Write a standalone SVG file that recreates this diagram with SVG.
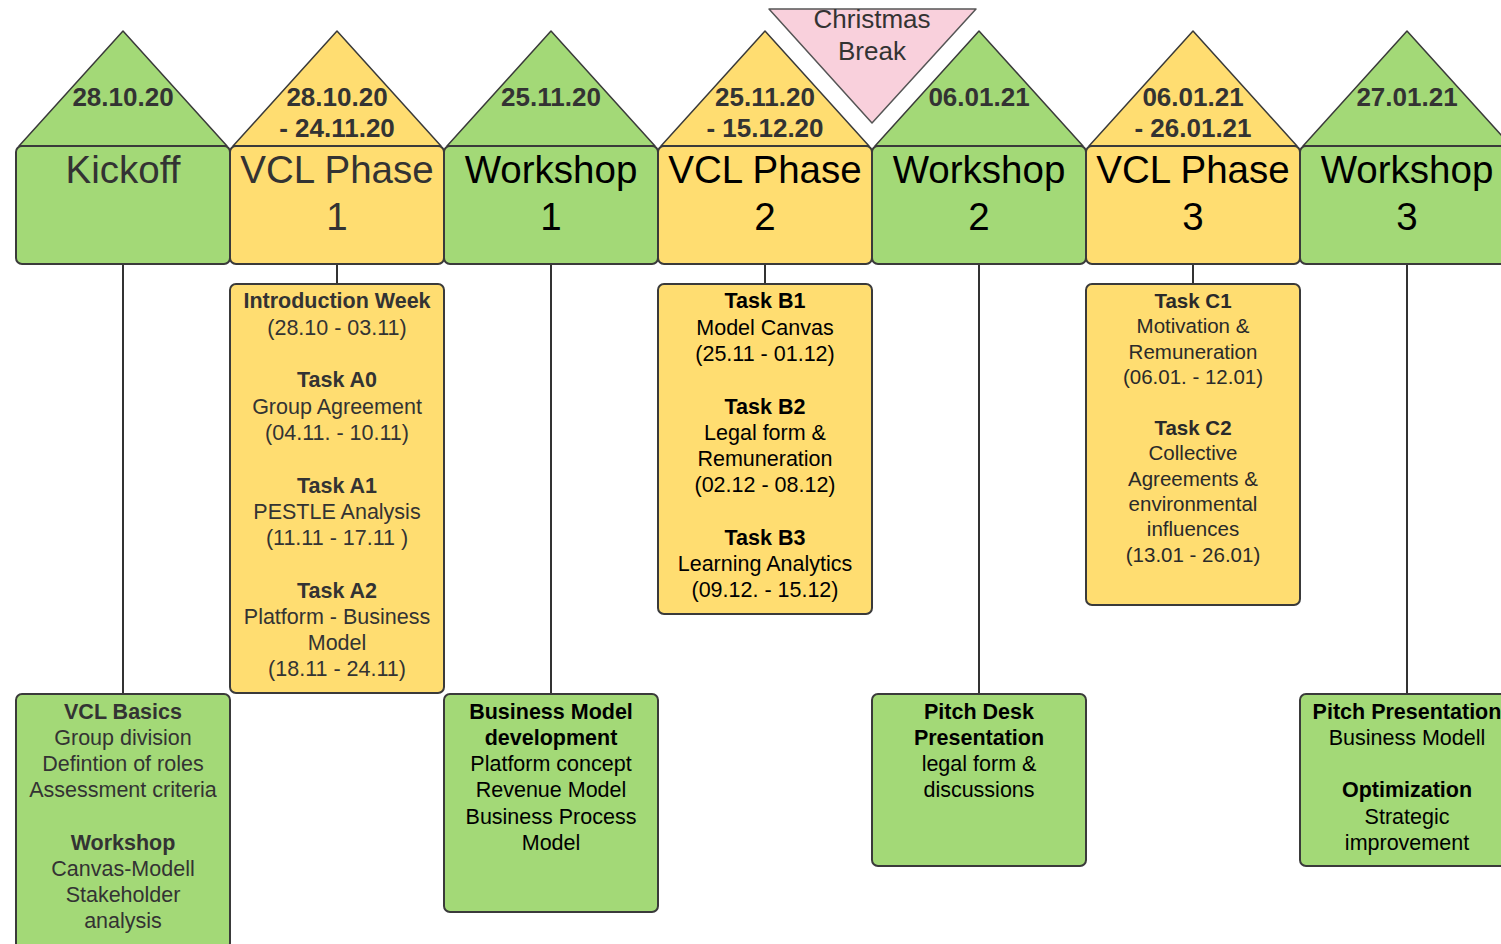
<svg xmlns="http://www.w3.org/2000/svg" width="1501" height="944" viewBox="0 0 1501 944">
<style>
.g{fill:#A3D977;stroke:#3a3a3a;stroke-width:2}
.y{fill:#FFDD71;stroke:#3a3a3a;stroke-width:2}
.p{fill:#F9D0DC;stroke:#555;stroke-width:1.5}
.tri{stroke-linejoin:round;stroke-width:1.5}
text{font-family:"Liberation Sans",Arial,sans-serif;text-anchor:middle}
.date{font-size:26px;font-weight:bold;fill:#333}
.head{font-size:38.5px;fill:#000}
.t{font-size:21.5px;fill:#000}
.t3{font-size:20.5px;fill:#2a2a2a}
.gray{fill:#333}
.b{font-weight:bold}
.conn line{stroke:#333;stroke-width:2}
</style>
<rect width="1501" height="944" fill="#fff"/>

<g id="christmas-break">
<polygon class="p tri" points="769,9 976,9 872,123"/>
<text x="872" y="28" style="font-size:26px;fill:#333">Christmas</text>
<text x="872" y="60" style="font-size:26px;fill:#333">Break</text>
</g>

<g class="conn" id="connectors">
<line x1="123" y1="264" x2="123" y2="694"/>
<line x1="337" y1="264" x2="337" y2="284"/>
<line x1="551" y1="264" x2="551" y2="694"/>
<line x1="765" y1="264" x2="765" y2="284"/>
<line x1="979" y1="264" x2="979" y2="694"/>
<line x1="1193" y1="264" x2="1193" y2="284"/>
<line x1="1407" y1="264" x2="1407" y2="694"/>
</g>

<g id="kickoff">
<polygon class="g tri" points="123,31 19,146 227,146"/>
<rect class="g" x="16" y="146" width="214" height="118" rx="6"/>
<text class="date" x="123" y="106">28.10.20</text>
<text class="head gray" x="123" y="183">Kickoff</text>
</g>

<g id="vcl-phase-1">
<polygon class="y tri" points="337,31 233,146 441,146"/>
<rect class="y" x="230" y="146" width="214" height="118" rx="6"/>
<text class="date" x="337" y="106">28.10.20</text>
<text class="date" x="337" y="137">- 24.11.20</text>
<text class="head gray" x="337" y="183">VCL Phase</text>
<text class="head gray" x="337" y="230">1</text>
</g>

<g id="workshop-1">
<polygon class="g tri" points="551,31 447,146 655,146"/>
<rect class="g" x="444" y="146" width="214" height="118" rx="6"/>
<text class="date" x="551" y="106">25.11.20</text>
<text class="head" x="551" y="183">Workshop</text>
<text class="head" x="551" y="230">1</text>
</g>

<g id="vcl-phase-2">
<polygon class="y tri" points="765,31 661,146 869,146"/>
<rect class="y" x="658" y="146" width="214" height="118" rx="6"/>
<text class="date" x="765" y="106">25.11.20</text>
<text class="date" x="765" y="137">- 15.12.20</text>
<text class="head" x="765" y="183">VCL Phase</text>
<text class="head" x="765" y="230">2</text>
</g>

<g id="workshop-2">
<polygon class="g tri" points="979,31 875,146 1083,146"/>
<rect class="g" x="872" y="146" width="214" height="118" rx="6"/>
<text class="date" x="979" y="106">06.01.21</text>
<text class="head" x="979" y="183">Workshop</text>
<text class="head" x="979" y="230">2</text>
</g>

<g id="vcl-phase-3">
<polygon class="y tri" points="1193,31 1089,146 1297,146"/>
<rect class="y" x="1086" y="146" width="214" height="118" rx="6"/>
<text class="date" x="1193" y="106">06.01.21</text>
<text class="date" x="1193" y="137">- 26.01.21</text>
<text class="head" x="1193" y="183">VCL Phase</text>
<text class="head" x="1193" y="230">3</text>
</g>

<g id="workshop-3">
<polygon class="g tri" points="1407,31 1303,146 1511,146"/>
<rect class="g" x="1300" y="146" width="214" height="118" rx="6"/>
<text class="date" x="1407" y="106">27.01.21</text>
<text class="head" x="1407" y="183">Workshop</text>
<text class="head" x="1407" y="230">3</text>
</g>

<g id="kickoff-details">
<rect class="g" x="16" y="694" width="214" height="255" rx="6"/>
<text class="t gray" x="123"><tspan x="123" y="719" class="b">VCL Basics</tspan><tspan x="123" y="745">Group division</tspan><tspan x="123" y="771">Defintion of roles</tspan><tspan x="123" y="797">Assessment criteria</tspan><tspan x="123" y="850" class="b">Workshop</tspan><tspan x="123" y="876">Canvas-Modell</tspan><tspan x="123" y="902">Stakeholder</tspan><tspan x="123" y="928">analysis</tspan></text>
</g>

<g id="vcl-phase-1-tasks">
<rect class="y" x="230" y="284" width="214" height="409" rx="6"/>
<text class="t gray"><tspan x="337" y="308" class="b">Introduction Week</tspan><tspan x="337" y="335">(28.10 - 03.11)</tspan><tspan x="337" y="387" class="b">Task A0</tspan><tspan x="337" y="414">Group Agreement</tspan><tspan x="337" y="440">(04.11. - 10.11)</tspan><tspan x="337" y="493" class="b">Task A1</tspan><tspan x="337" y="519">PESTLE Analysis</tspan><tspan x="337" y="545">(11.11 - 17.11 )</tspan><tspan x="337" y="598" class="b">Task A2</tspan><tspan x="337" y="624">Platform - Business</tspan><tspan x="337" y="650">Model</tspan><tspan x="337" y="676">(18.11 - 24.11)</tspan></text>
</g>

<g id="workshop-1-details">
<rect class="g" x="444" y="694" width="214" height="218" rx="6"/>
<text class="t"><tspan x="551" y="719" class="b">Business Model</tspan><tspan x="551" y="745" class="b">development</tspan><tspan x="551" y="771">Platform concept</tspan><tspan x="551" y="797">Revenue Model</tspan><tspan x="551" y="824">Business Process</tspan><tspan x="551" y="850">Model</tspan></text>
</g>

<g id="vcl-phase-2-tasks">
<rect class="y" x="658" y="284" width="214" height="330" rx="6"/>
<text class="t"><tspan x="765" y="308" class="b">Task B1</tspan><tspan x="765" y="335">Model Canvas</tspan><tspan x="765" y="361">(25.11 - 01.12)</tspan><tspan x="765" y="414" class="b">Task B2</tspan><tspan x="765" y="440">Legal form &amp;</tspan><tspan x="765" y="466">Remuneration</tspan><tspan x="765" y="492">(02.12 - 08.12)</tspan><tspan x="765" y="545" class="b">Task B3</tspan><tspan x="765" y="571">Learning Analytics</tspan><tspan x="765" y="597">(09.12. - 15.12)</tspan></text>
</g>

<g id="workshop-2-details">
<rect class="g" x="872" y="694" width="214" height="172" rx="6"/>
<text class="t"><tspan x="979" y="719" class="b">Pitch Desk</tspan><tspan x="979" y="745" class="b">Presentation</tspan><tspan x="979" y="771">legal form &amp;</tspan><tspan x="979" y="797">discussions</tspan></text>
</g>

<g id="vcl-phase-3-tasks">
<rect class="y" x="1086" y="284" width="214" height="321" rx="6"/>
<text class="t3"><tspan x="1193" y="308" class="b">Task C1</tspan><tspan x="1193" y="333">Motivation &amp;</tspan><tspan x="1193" y="359">Remuneration</tspan><tspan x="1193" y="384">(06.01. - 12.01)</tspan><tspan x="1193" y="435" class="b">Task C2</tspan><tspan x="1193" y="460">Collective</tspan><tspan x="1193" y="486">Agreements &amp;</tspan><tspan x="1193" y="511">environmental</tspan><tspan x="1193" y="536">influences</tspan><tspan x="1193" y="562">(13.01 - 26.01)</tspan></text>
</g>

<g id="workshop-3-details">
<rect class="g" x="1300" y="694" width="214" height="172" rx="6"/>
<text class="t"><tspan x="1407" y="719" class="b">Pitch Presentation</tspan><tspan x="1407" y="745">Business Modell</tspan><tspan x="1407" y="797" class="b">Optimization</tspan><tspan x="1407" y="824">Strategic</tspan><tspan x="1407" y="850">improvement</tspan></text>
</g>
</svg>
